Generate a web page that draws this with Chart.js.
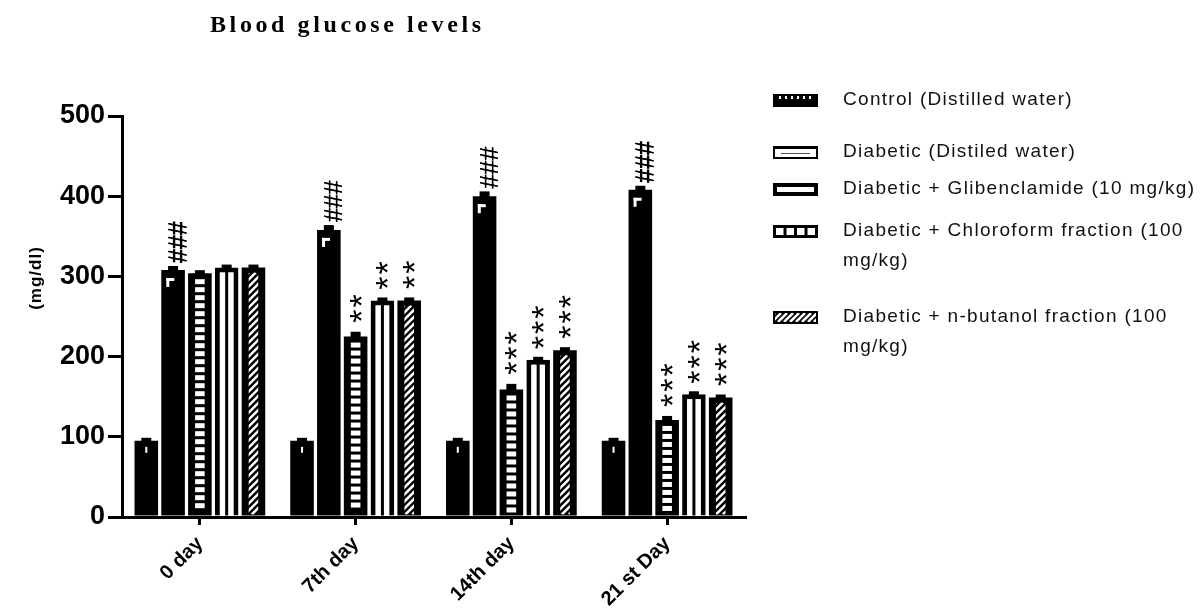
<!DOCTYPE html>
<html>
<head>
<meta charset="utf-8">
<script src="https://cdn.jsdelivr.net/npm/chart.js@4"></script>
<style>
  html, body { margin: 0; padding: 0; background: #fff; }
  #wrap { width: 1202px; height: 614px; }
</style>
</head>
<body>
<div id="wrap"><canvas id="glucose" width="1202" height="614"></canvas></div>
<script>
/* Blood glucose levels - bar chart */
const categories = ['0 day', '7th day', '14th day', '21 st Day'];
const yTicks = [0, 100, 200, 300, 400, 500];

const labelControl = 'Control (Distilled water)';
const labelDiabetic = 'Diabetic (Distiled water)';
const labelGlib = 'Diabetic + Glibenclamide (10 mg/kg)';
const labelChloro = 'Diabetic + Chloroform fraction (100 mg/kg)';
const labelButanol = 'Diabetic + n-butanol fraction (100 mg/kg)';

const control = [95, 95, 95, 95];
const diabetic = [308, 358, 400, 408];
const chloroform = [304, 225, 159, 121];
const glibenclamide = [311, 270, 196, 153];
const butanol = [311, 270, 208, 149];

const controlErr = [2, 2, 2, 2];
const diabeticErr = [5, 6, 6, 5];
const chloroformErr = [3, 6, 7, 5];
const glibenclamideErr = [2, 2, 2, 2];
const butanolErr = [3, 3, 3, 3];

const diabeticMarks = ['###', '###', '###', '###'];
const chloroformMarks = ['', '**', '***', '***'];
const glibenclamideMarks = ['', '**', '***', '***'];
const butanolMarks = ['', '**', '***', '***'];

// bars are drawn in the order the figure shows them
const series = [
  { label: labelControl, data: control, err: controlErr, marks: null, kind: 'control' },
  { label: labelDiabetic, data: diabetic, err: diabeticErr, marks: diabeticMarks, kind: 'diabetic' },
  { label: labelChloro, data: chloroform, err: chloroformErr, marks: chloroformMarks, kind: 'chloro' },
  { label: labelGlib, data: glibenclamide, err: glibenclamideErr, marks: glibenclamideMarks, kind: 'glib' },
  { label: labelButanol, data: butanol, err: butanolErr, marks: butanolMarks, kind: 'butanol' },
];

// legend rows: series kind, text lines, y of first line
const legendRows = [
  { kind: 'control', lines: ['Control (Distilled water)'], y: 100 },
  { kind: 'diabetic', lines: ['Diabetic (Distiled water)'], y: 152 },
  { kind: 'glib', lines: ['Diabetic + Glibenclamide (10 mg/kg)'], y: 189 },
  { kind: 'chloro', lines: ['Diabetic + Chloroform fraction (100', 'mg/kg)'], y: 231 },
  { kind: 'butanol', lines: ['Diabetic + n-butanol fraction (100', 'mg/kg)'], y: 317 },
];

function hatch(ctx, x, y, w, h, step) {
  ctx.save();
  ctx.beginPath(); ctx.rect(x, y, w, h); ctx.clip();
  ctx.strokeStyle = '#fff'; ctx.lineWidth = 2.5;
  for (let k = -h; k < w + h; k += step) {
    ctx.beginPath(); ctx.moveTo(x + k, y + h); ctx.lineTo(x + k + h, y); ctx.stroke();
  }
  ctx.restore();
}

// fill patterns painted over the library's bar elements
const barPatterns = {
  id: 'barPatterns',
  afterDatasetsDraw(chart) {
    const ctx = chart.ctx;
    chart.data.datasets.forEach((ds, di) => {
      chart.getDatasetMeta(di).data.forEach((el) => {
        const p = el.getProps(['x', 'y', 'base', 'width'], true);
        const l = p.x - p.width / 2, r = p.x + p.width / 2, t = p.y, b = p.base;
        ctx.save();
        ctx.fillStyle = '#fff';
        if (ds.kind === 'control') {
          ctx.fillRect(p.x - 1, t + 6, 2, 6);
        } else if (ds.kind === 'diabetic') {
          ctx.fillRect(l + 5, t + 8, 8, 3);
          ctx.fillRect(l + 5, t + 8, 3, 9);
        } else if (ds.kind === 'chloro') {
          for (let yy = t + 6; yy < b - 5; yy += 8) ctx.fillRect(l + 7, yy, r - l - 14, 5);
        } else if (ds.kind === 'glib') {
          ctx.fillStyle = '#000';
          ctx.fillRect(p.x - 1.5, t + 4, 3, b - t - 4);
        } else if (ds.kind === 'butanol') {
          hatch(ctx, l + 7, t + 5, r - l - 14, b - t - 6, 7);
        }
        ctx.restore();
      });
    });
  },
};

// error caps and significance marks (written vertically, like the figure)
const errorMarks = {
  id: 'errorMarks',
  afterDatasetsDraw(chart) {
    const ctx = chart.ctx, ys = chart.scales.y;
    chart.data.datasets.forEach((ds, di) => {
      chart.getDatasetMeta(di).data.forEach((el, i) => {
        const p = el.getProps(['x', 'y'], true);
        const top = ys.getPixelForValue(ds.data[i] + ds.err[i]);
        ctx.save();
        ctx.fillStyle = '#000';
        ctx.fillRect(p.x - 5, Math.min(top, p.y - 3), 10, Math.max(p.y - top, 3) + 2);
        const mark = ds.marks && ds.marks[i];
        if (mark) {
          const isHash = mark[0] === '#';
          ctx.font = isHash ? '25px "Liberation Sans"' : '34px "Liberation Sans"';
          ctx.letterSpacing = isHash ? '0px' : '2px';
          const m = ctx.measureText(mark[0]);
          const off = (m.actualBoundingBoxAscent - m.actualBoundingBoxDescent) / 2;
          ctx.translate(p.x + (isHash ? 4 : 0), top - (isHash ? 3 : 9));
          ctx.rotate(-Math.PI / 2);
          ctx.textAlign = 'left';
          ctx.textBaseline = 'alphabetic';
          ctx.fillText(mark, 0, off);
          if (isHash) ctx.fillText(mark, 0, off + 0.6);
        }
        ctx.restore();
      });
    });
  },
};

function legendIcon(ctx, kind, x, y, w, h) {
  ctx.save();
  ctx.fillStyle = '#000';
  if (kind === 'control') {
    ctx.fillRect(x, y, w, h);
    ctx.fillStyle = '#fff';
    for (let k = 6; k < w - 4; k += 6) ctx.fillRect(x + k, y + 2, 2, 3);
  } else if (kind === 'diabetic') {
    ctx.fillRect(x, y, w, h);
    ctx.fillStyle = '#fff';
    ctx.fillRect(x + 2, y + 3, w - 4, h - 5);
    ctx.fillStyle = '#555';
    ctx.fillRect(x + 8, y + 7, w - 16, 1);
  } else if (kind === 'glib') {
    ctx.fillRect(x, y, w, h);
    ctx.fillStyle = '#fff';
    ctx.fillRect(x + 4, y + 4, w - 8, h - 8);
  } else if (kind === 'chloro') {
    ctx.fillRect(x, y, w, h);
    ctx.fillStyle = '#fff';
    const cw = (w - 5 * 3) / 4;
    for (let k = 0; k < 4; k++) ctx.fillRect(x + 3 + k * (cw + 3), y + 3, cw, h - 6);
  } else if (kind === 'butanol') {
    ctx.fillRect(x, y, w, h);
    hatch(ctx, x + 2, y + 2, w - 4, h - 4, 6);
  }
  ctx.restore();
}

// title, y-axis title and legend drawn as canvas text
const decorations = {
  id: 'decorations',
  afterDraw(chart) {
    const ctx = chart.ctx;
    ctx.save();
    ctx.fillStyle = '#000';
    ctx.textBaseline = 'middle';
    ctx.font = 'bold 24px "Liberation Serif"';
    ctx.letterSpacing = '3.6px';
    ctx.textAlign = 'left';
    ctx.fillText('Blood glucose levels', 210, 26);
    ctx.letterSpacing = '1px';

    ctx.save();
    ctx.translate(36, 278);
    ctx.rotate(-Math.PI / 2);
    ctx.textAlign = 'center';
    ctx.font = 'bold 17px "Liberation Sans"';
    ctx.fillText('(mg/dl)', 0, 0);
    ctx.restore();

    ctx.letterSpacing = '1.3px';
    ctx.font = '19px "Liberation Sans"';
    ctx.fillStyle = '#111';
    legendRows.forEach((row) => {
      legendIcon(ctx, row.kind, 773, row.y - 6, 45, 13);
      row.lines.forEach((txt, k) => ctx.fillText(txt, 843, row.y + k * 30));
    });
    ctx.restore();
  },
};

new Chart(document.getElementById('glucose'), {
  type: 'bar',
  data: {
    labels: categories,
    datasets: series.map((s) => ({
      label: s.label,
      data: s.data,
      err: s.err,
      marks: s.marks,
      kind: s.kind,
      backgroundColor: s.kind === 'glib' ? '#fff' : '#000',
      borderColor: '#000',
      borderWidth: s.kind === 'glib' ? 5 : 0,
      borderSkipped: 'start',
      categoryPercentage: 0.86,
      barPercentage: 0.88,
    })),
  },
  options: {
    responsive: false,
    animation: false,
    layout: { padding: { top: 116, right: 457, left: 0, bottom: 0 } },
    plugins: { legend: { display: false }, title: { display: false }, tooltip: { enabled: false } },
    scales: {
      x: {
        grid: { offset: false, drawOnChartArea: false, tickLength: 8, lineWidth: 3, color: '#000' },
        border: { width: 3, color: '#000' },
        ticks: {
          color: '#000', font: { family: 'Liberation Sans', size: 20, weight: 'bold' },
          minRotation: 45, maxRotation: 45, padding: 7,
        },
        afterFit: (s) => { s.height = 97; },
      },
      y: {
        min: 0, max: 500,
        afterBuildTicks: (s) => { s.ticks = yTicks.map((v) => ({ value: v })); },
        grid: { drawOnChartArea: false, tickLength: 14, lineWidth: 3, color: '#000' },
        border: { width: 3, color: '#000' },
        ticks: { color: '#000', font: { family: 'Liberation Sans', size: 27, weight: 'bold' }, padding: 3 },
        afterFit: (s) => { s.width = 122; },
      },
    },
  },
  plugins: [barPatterns, errorMarks, decorations],
});
</script>
</body>
</html>
